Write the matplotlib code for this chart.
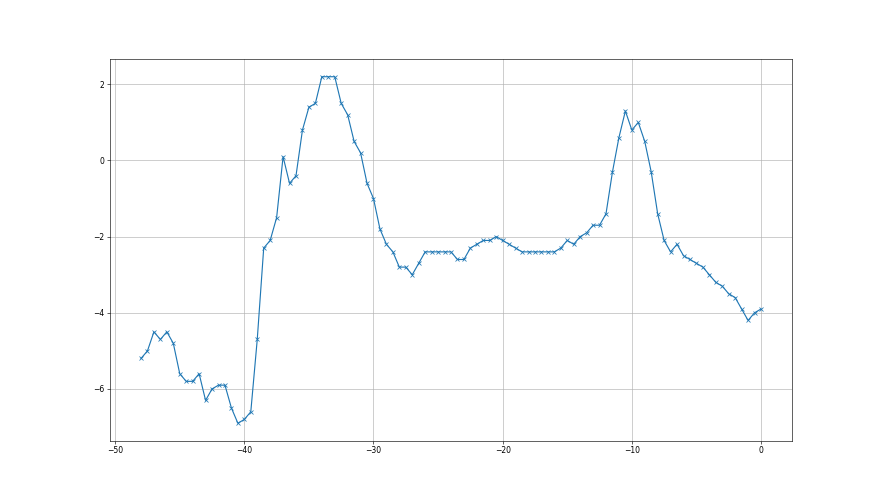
import numpy as np
import matplotlib
matplotlib.use("Agg")
import matplotlib.pyplot as plt

# x positions, every half unit from -48 to 0
x_start = -48.0
x_step = 0.5
values = [
    -5.2, -5.0, -4.5, -4.7, -4.5, -4.8, -5.6, -5.8, -5.8, -5.6,
    -6.3, -6.0, -5.9, -5.9, -6.5, -6.9, -6.8, -6.6, -4.7, -2.3,
    -2.1, -1.5, 0.1, -0.6, -0.4, 0.8, 1.4, 1.5, 2.2, 2.2,
    2.2, 1.5, 1.2, 0.5, 0.2, -0.6, -1.0, -1.8, -2.2, -2.4,
    -2.8, -2.8, -3.0, -2.7, -2.4, -2.4, -2.4, -2.4, -2.4, -2.6,
    -2.6, -2.3, -2.2, -2.1, -2.1, -2.0, -2.1, -2.2, -2.3, -2.4,
    -2.4, -2.4, -2.4, -2.4, -2.4, -2.3, -2.1, -2.2, -2.0, -1.9,
    -1.7, -1.7, -1.4, -0.3, 0.6, 1.3, 0.8, 1.0, 0.5, -0.3,
    -1.4, -2.1, -2.4, -2.2, -2.5, -2.6, -2.7, -2.8, -3.0, -3.2,
    -3.3, -3.5, -3.6, -3.9, -4.2, -4.0, -3.9,
]
xs = x_start + x_step * np.arange(len(values))

fig, ax = plt.subplots(figsize=(16, 9), dpi=55)
ax.plot(xs, values, marker='x', color='#1f77b4')
ax.grid(True)

fig.savefig("out.png", dpi=55)
